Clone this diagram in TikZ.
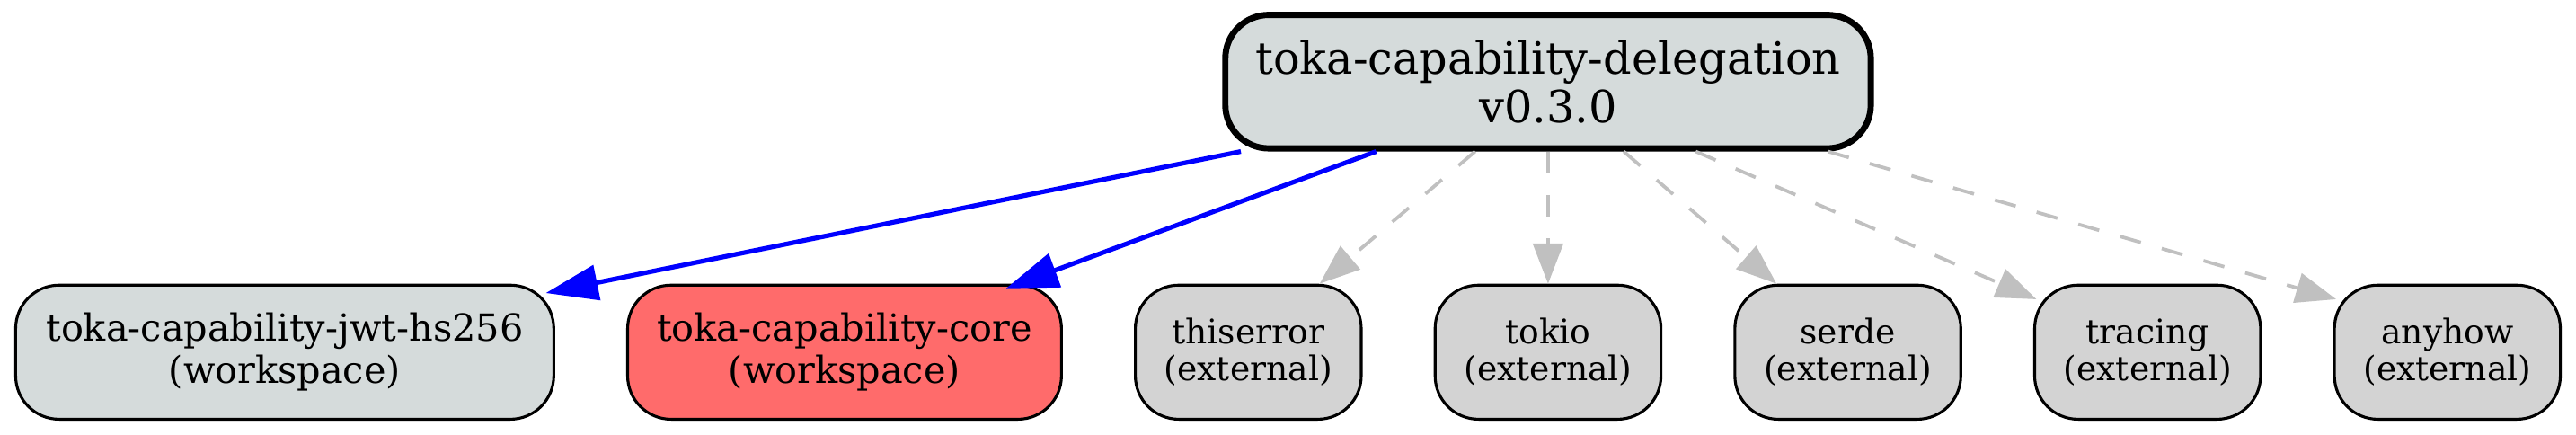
\documentclass[tikz,border=0pt]{standalone}
\usepackage{fontspec}
\setmainfont{DejaVu Serif}
\usepackage{tikz}
\usetikzlibrary{arrows.meta,positioning,calc}
\definecolor{RootGray}{HTML}{D5DBDB}
\definecolor{WsGray}{HTML}{D5DBDB}
\definecolor{CoreRed}{HTML}{FF6B6B}
\definecolor{ExtGray}{HTML}{D3D3D3}
\definecolor{EdgeBlue}{HTML}{0000FF}
\definecolor{EdgeGray}{HTML}{C0C0C0}
\tikzset{
  rootbox/.style={draw=black, rounded corners=14pt, line width=2pt, fill=RootGray, align=center, minimum width=208pt, minimum height=43pt, inner sep=0pt, font=\fontsize{14.3}{15.7}\selectfont},
  cratebox/.style={draw=black, rounded corners=14pt, line width=0.9pt, align=center, minimum height=43.2pt, inner sep=0pt, font=\fontsize{12}{13.6}\selectfont},
  wsbox/.style={cratebox, fill=WsGray},
  corebox/.style={cratebox, fill=CoreRed},
  extbox/.style={cratebox, fill=ExtGray, minimum width=72.8pt, font=\fontsize{10.9}{11.9}\selectfont},
  deparrow/.style={-{Triangle[length=16.8pt, width=11.3pt]}, line width=1.5pt, draw=EdgeBlue},
  extarrow/.style={-{Triangle[length=13pt, width=9.7pt]}, line width=1.1pt, draw=EdgeGray, dash pattern=on 7pt off 7pt}
}
\begin{document}
\begin{tikzpicture}[node distance=42.6pt and 22.9pt]
  \node[wsbox, minimum width=173.4pt] (jwt) {toka-capability-jwt-hs256\\(workspace)};
  \node[corebox, minimum width=139.8pt, right=of jwt] (core) {toka-capability-core\\(workspace)};
  \node[extbox, right=of core] (thiserror) {thiserror\\(external)};
  \node[extbox, right=of thiserror] (tokio) {tokio\\(external)};
  \node[extbox, right=of tokio] (serde) {serde\\(external)};
  \node[extbox, right=of serde] (tracing) {tracing\\(external)};
  \node[extbox, right=of tracing] (anyhow) {anyhow\\(external)};
  \node[rootbox, above=of tokio] (delegation) {toka-capability-delegation\\v0.3.0};

  \useasboundingbox ($(jwt.south west)+(-4.6pt,-4.6pt)$) rectangle ($(anyhow.east |- delegation.north)+(4.6pt,3.8pt)$);

  \draw[deparrow] ([xshift=-99pt]delegation.south) -- ([xshift=-3pt,yshift=-3pt]jwt.north east);
  \draw[deparrow] ([xshift=-55.4pt]delegation.south) -- ([xshift=-18.3pt,yshift=-1.5pt]core.north east);
  \draw[extarrow] ([xshift=-23.5pt]delegation.south) -- ([xshift=23pt]thiserror.north);
  \draw[extarrow] (delegation.south) -- (tokio.north);
  \draw[extarrow] ([xshift=24.4pt]delegation.south) -- ([xshift=-23pt]serde.north);
  \draw[extarrow] ([xshift=47.6pt]delegation.south) -- ([xshift=1pt,yshift=-5pt]tracing.north west);
  \draw[extarrow] ([xshift=90.2pt]delegation.south) -- ([xshift=1pt,yshift=-5pt]anyhow.north west);
\end{tikzpicture}
\end{document}
